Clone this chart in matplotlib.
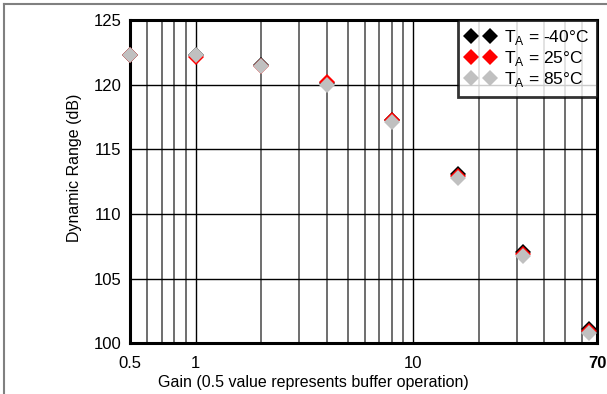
import matplotlib
matplotlib.use("Agg")
import matplotlib.pyplot as plt
from matplotlib.lines import Line2D
from matplotlib.ticker import FixedLocator, NullFormatter, FixedFormatter

plt.rcParams['font.family'] = ['Liberation Sans', 'DejaVu Sans']

gain = [0.5, 1, 2, 4, 8, 16, 32, 64]
dr_m40 = [122.35, 122.3, 121.55, 120.15, 117.3, 113.1, 107.05, 101.1]
dr_25 = [122.35, 122.2, 121.5, 120.2, 117.3, 112.95, 106.9, 100.95]
dr_85 = [122.3, 122.3, 121.5, 120.0, 117.15, 112.8, 106.75, 100.75]

series = [
    (dr_m40, 'black', r'T$_\mathregular{A}$ = -40°C'),
    (dr_25, '#ff0000', r'T$_\mathregular{A}$ = 25°C'),
    (dr_85, '#c0c0c0', r'T$_\mathregular{A}$ = 85°C'),
]

xticks = [0.5, 1, 10, 70]
xticklabels = ['0.5', '1', '10', '70']
yticks = [100, 105, 110, 115, 120, 125]

fig = plt.figure(figsize=(6.07, 3.94), dpi=100)
ax = fig.add_axes([0.2142, 0.1294, 0.7693, 0.8186])

for vals, col, lab in series:
    ax.plot(gain, vals, linestyle='none', marker='D', markersize=8,
            color=col, markeredgewidth=0, label=lab, zorder=3, clip_on=False)

ax.set_xscale('log')
ax.set_xlim(0.5, 70)
ax.set_ylim(100, 125)

minor = [0.6, 0.7, 0.8, 0.9, 2, 3, 4, 5, 6, 7, 8, 9, 20, 30, 40, 50, 60]
ax.xaxis.set_major_locator(FixedLocator(xticks))
ax.xaxis.set_major_formatter(FixedFormatter(xticklabels))
ax.xaxis.set_minor_locator(FixedLocator(minor))
ax.xaxis.set_minor_formatter(NullFormatter())
ax.set_yticks(yticks)

ax.grid(True, which='major', color='black', linewidth=1.0)
ax.grid(True, which='minor', axis='x', color='#555555', linewidth=1.2)
ax.tick_params(which='both', length=0, labelsize=12, pad=6)
ax.tick_params(axis='x', pad=9)
for lbl in ax.get_xticklabels():
    if lbl.get_text() == '70':
        lbl.set_fontweight('bold')

for sp in ax.spines.values():
    sp.set_linewidth(2.2)
    sp.set_color('black')

leg = ax.legend(loc='upper right', numpoints=2, fontsize=12.5, frameon=True,
                fancybox=False, borderaxespad=0, handletextpad=0.5,
                labelspacing=0.1, borderpad=0.45, handlelength=1.7)
leg.get_frame().set_edgecolor('black')
leg.get_frame().set_linewidth(2)
leg.set_zorder(5)

fig.text(313 / 607, 1 - 383 / 394, 'Gain (0.5 value represents buffer operation)',
         ha='center', va='center', fontsize=11.5)
fig.text(75 / 607, 1 - 168 / 394, 'Dynamic Range (dB)', rotation=90,
         ha='center', va='center', fontsize=11.5)

# grey frame around the figure (left and top edges visible)
fig.add_artist(Line2D([3.5 / 607, 3.5 / 607], [0, 1 - 3.5 / 394],
                      transform=fig.transFigure, color='#808080', lw=1.5))
fig.add_artist(Line2D([3.5 / 607, 1], [1 - 3.5 / 394, 1 - 3.5 / 394],
                      transform=fig.transFigure, color='#808080', lw=1.5))

fig.savefig('out.png', dpi=100, facecolor='white')
